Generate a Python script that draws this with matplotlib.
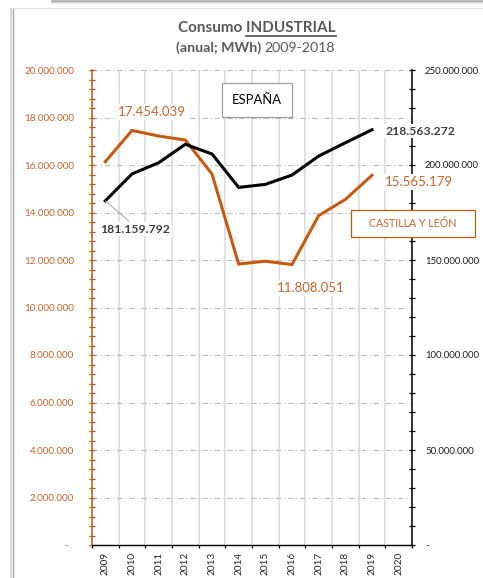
import numpy as np
import matplotlib
matplotlib.use("Agg")
import matplotlib.pyplot as plt
from matplotlib.ticker import MultipleLocator, FuncFormatter
from matplotlib.patches import Rectangle
from matplotlib.lines import Line2D

# ---------------- data ----------------
years = ["2009", "2010", "2011", "2012", "2013", "2014", "2015",
         "2016", "2017", "2018", "2019", "2020"]
cyl = [16140000, 17454039, 17220000, 17050000, 15620000, 11830000,
       11950000, 11808051, 13870000, 14550000, 15565179]          # Castilla y León (left axis)
esp = [181159792, 195300000, 201200000, 210900000, 205800000, 188200000,
       189800000, 194700000, 204700000, 211700000, 218563272]      # España (right axis)
left_max, left_step, left_minor = 20000000, 2000000, 400000
right_max, right_step, right_minor = 250000000, 50000000, 10000000
title_a = "Consumo "
title_b = "INDUSTRIAL"
sub_a = "(anual; MWh)"
sub_b = "2009-2018"
box_esp = "ESPAÑA"
box_cyl = "CASTILLA Y LEÓN"
# labelled points (indices)
labels_cyl = [1, 7, 10]
labels_esp = [0, 10]

# ---------------- style ----------------
FONT = "Lato"
ORANGE = "#C55A11"
ORANGE_T = "#C8652A"
DARK = "#404040"
GRAY_T = "#595959"
W, H = 483, 578
plt.rcParams["font.family"] = [FONT, "DejaVu Sans"]

def fx(x):
    return x / W

def fy(y):
    return 1 - y / H

def fmt(v, pos=None):
    v = int(round(v))
    if v == 0:
        return "-"
    return f"{v:,}".replace(",", ".")

fig = plt.figure(figsize=(W / 100, H / 100), dpi=100)
fig.patch.set_facecolor("white")
renderer = fig.canvas.get_renderer()

def width_of(s, size, **kw):
    t = fig.text(0, 0, s, fontsize=size, **kw)
    w = t.get_window_extent(renderer).width
    t.remove()
    return w

def fit(s, target, **kw):
    return 10 * target / width_of(s, 10, **kw)

# ---------------- frame decoration ----------------
fig.add_artist(Line2D([fx(52), 1], [fy(1.2), fy(1.2)], color="#a8a8a8", lw=1.8))
fig.add_artist(Line2D([fx(52), 1], [fy(3.2), fy(3.2)], color="#e2e2e2", lw=1.2))
fig.add_artist(Line2D([fx(10.5), fx(10.5)], [fy(9), 0], color="#d8d8d8", lw=1.5))
fig.add_artist(Line2D([fx(12.5), fx(12.5)], [fy(8), 0], color="#a9a9a9", lw=1.0))
fig.add_artist(Line2D([fx(12.5), 1], [fy(8), fy(8)], color="#dcdcdc", lw=0.8))

# ---------------- axes ----------------
ax = fig.add_axes([fx(92), fy(545), (412 - 92) / W, (545 - 70) / H])
ax2 = ax.twinx()
ax.set_facecolor("none")

x = np.arange(len(cyl)) + 0.5
ax.set_xlim(0, len(years))
ax.set_ylim(0, left_max)
ax2.set_ylim(0, right_max)

# x axis: ticks on category edges, labels at centres
ax.set_xticks(np.arange(len(years) + 1))
ax.set_xticklabels([])
ax.set_xticks(np.arange(len(years)) + 0.5, minor=True)
xt_size = fit("2009", 23)
ax.set_xticklabels(years, minor=True, rotation=90, fontsize=xt_size, color="#262626")
ax.tick_params(axis="x", which="major", direction="out", length=2.3, width=0.9, color="black")
ax.tick_params(axis="x", which="minor", length=0, pad=4.6)

# left y axis
ax.yaxis.set_major_locator(MultipleLocator(left_step))
ax.yaxis.set_minor_locator(MultipleLocator(left_minor))
ax.yaxis.set_major_formatter(FuncFormatter(lambda v, p: "-  " if int(v) == 0 else fmt(v)))
ly_size = fit("20.000.000", 50)
ax.tick_params(axis="y", which="both", direction="inout", length=5, width=0.9,
               color=ORANGE, labelcolor=ORANGE_T, labelsize=ly_size, pad=10.4)

# right y axis
ax2.yaxis.set_major_locator(MultipleLocator(right_step))
ax2.yaxis.set_minor_locator(MultipleLocator(right_minor))
ax2.yaxis.set_major_formatter(FuncFormatter(fmt))
ry_size = fit("200.000.000", 54.3)
ax2.tick_params(axis="y", which="both", direction="inout", length=5, width=0.9,
                color="black", labelcolor="#1a1a1a", labelsize=ry_size, pad=6.8)

# spines
for s in ["top", "right"]:
    ax.spines[s].set_visible(False)
ax.spines["left"].set_color(ORANGE)
ax.spines["left"].set_linewidth(1.1)
ax.spines["bottom"].set_color("black")
ax.spines["bottom"].set_linewidth(1.0)
for s in ["top", "left", "bottom"]:
    ax2.spines[s].set_visible(False)
ax2.spines["right"].set_color("black")
ax2.spines["right"].set_linewidth(1.1)

# grids
ax.xaxis.grid(True, which="major", color="#dadada", linewidth=1.1, linestyle="solid")
ax.xaxis.grid(False, which="minor")
ax.yaxis.grid(True, which="major", color="#bdbdbd", linewidth=0.8,
              linestyle=(0, (5, 2.5, 1, 2.5)))
ax.yaxis.grid(False, which="minor")
ax.set_axisbelow(True)

# ---------------- lines ----------------
ax.plot(x, cyl, color=ORANGE, lw=2.2, solid_joinstyle="miter", zorder=3)
ax2.plot(x, esp, color="black", lw=2.2, solid_joinstyle="miter", zorder=3)

# ---------------- data labels ----------------
num_size_n = fit("17.454.039", 68)
num_size_b = fit("218.563.272", 70, fontweight="bold")
bb = dict(boxstyle="square,pad=0.15", fc="white", ec="none")

cyl_offsets = {1: (20, 18.7), 7: (18.3, -23.7), 10: (47, -7)}
for i in labels_cyl:
    ax2.annotate(fmt(cyl[i]), (x[i], cyl[i]), xycoords=ax.transData,
                 xytext=cyl_offsets[i], textcoords="offset pixels",
                 ha="center", va="center", fontsize=num_size_n, color=ORANGE_T,
                 bbox=bb, zorder=6, annotation_clip=False)

esp_offsets = {0: (30, -28.3), 10: (48, -1.3)}
for i in labels_esp:
    kw = {}
    if i == 0:
        kw["arrowprops"] = dict(arrowstyle="-", color="#a6a6a6", lw=0.7,
                                shrinkA=1, shrinkB=0, relpos=(0.45, 1.0))
    ax2.annotate(fmt(esp[i]), (x[i], esp[i]), xytext=esp_offsets[i], textcoords="offset pixels",
                 ha="center", va="center", fontsize=num_size_b, fontweight="bold", color=DARK,
                 bbox=bb, zorder=6, annotation_clip=False, **kw)

# ---------------- series boxes ----------------
fig.add_artist(Rectangle((fx(222), fy(117)), 70 / W, 34 / H, transform=fig.transFigure,
                         fc="white", ec="#a0a0a0", lw=0.9, zorder=8))
fig.text(fx(257), fy(100.5), box_esp, ha="center", va="center",
         fontsize=fit(box_esp, 49.7), color="black", zorder=9)
fig.add_artist(Rectangle((fx(350.5), fy(236.7)), 124.5 / W, 26.7 / H, transform=fig.transFigure,
                         fc="white", ec=ORANGE, lw=0.9, zorder=8))
fig.text(fx(412.5), fy(223.5), box_cyl, ha="center", va="center",
         fontsize=fit(box_cyl, 86.7), color=ORANGE_T, zorder=9)

# ---------------- title ----------------
t_full = title_a + title_b
t_size = fit(t_full, 157.7, fontweight="bold")
t_w = width_of(t_full, t_size, fontweight="bold")
t_wb = width_of(title_b, t_size, fontweight="bold")
t_cx = 256.8
fig.text(fx(t_cx), fy(28), t_full, ha="center", va="center", fontsize=t_size,
         fontweight="bold", color=GRAY_T)
u_x1 = t_cx + t_w / 2
u_x0 = u_x1 - t_wb
fig.add_artist(Line2D([fx(u_x0), fx(u_x1)], [fy(35.5), fy(35.5)], color=GRAY_T, lw=1.3))

# subtitle: bold part + normal part
s_size0 = 10
wa = width_of(sub_a, s_size0, fontweight="bold")
wb = width_of(sub_b, s_size0)
wsp = width_of("a a", s_size0) - width_of("aa", s_size0)
s_size = s_size0 * 160 / (wa + wb + wsp)
wa = width_of(sub_a, s_size, fontweight="bold")
wb = width_of(sub_b, s_size)
wsp = width_of("a a", s_size) - width_of("aa", s_size)
s_x0 = 255.7 - (wa + wsp + wb) / 2
fig.text(fx(s_x0), fy(47.5), sub_a, ha="left", va="center", fontsize=s_size,
         fontweight="bold", color=GRAY_T)
fig.text(fx(s_x0 + wa + wsp + wb), fy(47.5), sub_b, ha="right", va="center",
         fontsize=s_size, color=GRAY_T)

fig.savefig("out.png", dpi=100, facecolor="white")
